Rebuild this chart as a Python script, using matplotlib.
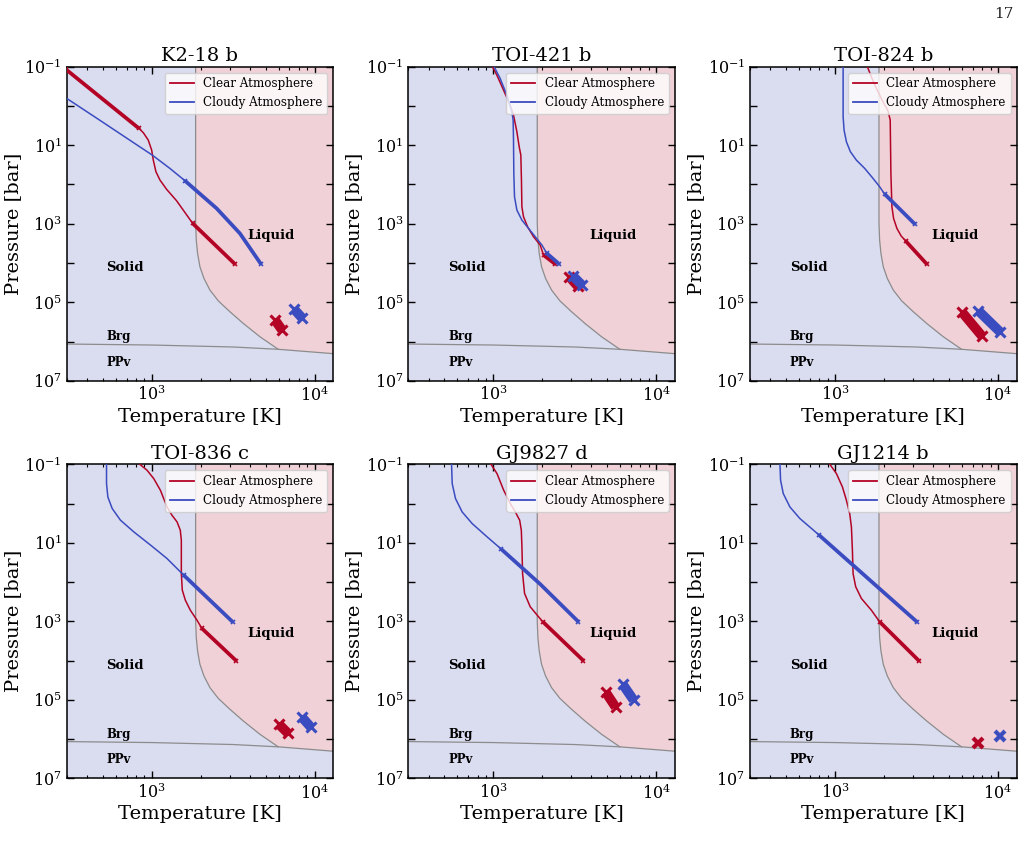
import matplotlib
matplotlib.use('Agg')
import matplotlib.pyplot as plt
from matplotlib.lines import Line2D
from matplotlib.ticker import LogLocator, NullFormatter, FixedLocator, FixedFormatter

plt.rcParams['font.family'] = ['DejaVu Serif']
plt.rcParams['mathtext.fontset'] = 'dejavuserif'

RED = '#b40426'
BLUE = '#3b4cc0'
SOLID_C = '#dadcf0'
LIQ_C = '#f0d1d7'
BOUND_C = '#8c8c8c'

# ---- phase boundaries (T [K], P [bar]) ----
melt_T = [1858, 1858, 1875, 1910, 1975, 2090, 2275, 2559, 3020, 3645, 4613, 5975]
melt_P = [0.1, 977, 2606, 5700, 1.25e4, 2.47e4, 4.9e4, 9.2e4, 1.75e5, 3.46e5, 7.56e5, 1.58e6]
brg_T = [300, 1000, 3160, 5975, 13000]
brg_P = [1.16e6, 1.23e6, 1.38e6, 1.58e6, 2.04e6]

titles = ['K2-18 b', 'TOI-421 b', 'TOI-824 b', 'TOI-836 c', 'GJ9827 d', 'GJ1214 b']

# ---- K2-18 b ----
k218b_clear_T = [297, 832, 887, 951, 998, 1021, 1060, 1122, 1233, 1419, 1782, 3236]
k218b_clear_P = [0.117, 3.7, 4.8, 7.4, 13.3, 23.9, 47.3, 77, 133, 259, 977, 1.06e4]
k218b_clear_thick = [(0, 1), (10, 11)]
k218b_cloudy_T = [300, 481, 769, 1006, 1291, 1597, 2500, 3475, 4677]
k218b_cloudy_P = [0.64, 2.33, 8.5, 17.8, 38.9, 80, 406, 1762, 1.06e4]
k218b_cloudy_thick = [(5, 8)]
k218b_clear_int_T = [5710, 6310]
k218b_clear_int_P = [2.84e5, 5.1e5]
k218b_cloudy_int_T = [7470, 8360]
k218b_cloudy_int_P = [1.49e5, 2.5e5]

# ---- TOI-421 b ----
toi421b_clear_T = [986, 1049, 1153, 1267, 1328, 1393, 1439, 1473, 1486, 1495, 1530, 1620, 1763, 1937, 2031, 2399]
toi421b_clear_P = [0.1, 0.163, 0.393, 0.95, 1.70, 4.53, 10.9, 17.8, 77, 369, 664, 1191, 2143, 3494, 6280, 1.07e4]
toi421b_clear_thick = [(14, 15)]
toi421b_cloudy_T = [1010, 1099, 1208, 1297, 1321, 1328, 1334, 1347, 1393, 1495, 1643, 1806, 1985, 2130, 2512]
toi421b_cloudy_P = [0.1, 0.198, 0.527, 1.40, 2.28, 7.38, 52, 205, 449, 807, 1316, 2143, 3494, 5700, 1.03e4]
toi421b_cloudy_thick = [(13, 14)]
toi421b_clear_int_T = [2924, 3290]
toi421b_clear_int_P = [2.24e4, 3.87e4]
toi421b_cloudy_int_T = [3078, 3497]
toi421b_cloudy_int_P = [2.15e4, 3.66e4]

# ---- TOI-824 b ----
toi824b_clear_T = [1577, 1667, 1790, 1965, 2109, 2178, 2199, 2231, 2284, 2394, 2545, 2704, 3655]
toi824b_clear_P = [0.1, 0.18, 0.356, 0.78, 1.32, 2.28, 52, 369, 731, 1316, 2060, 2716, 1.07e4]
toi824b_clear_thick = [(11, 12)]
toi824b_cloudy_T = [1119, 1119, 1134, 1172, 1240, 1349, 1518, 1708, 1875, 2012, 3085]
toi824b_cloudy_P = [0.1, 1.88, 4.11, 8.15, 14.6, 23.9, 38.9, 70, 114, 175, 1019]
toi824b_cloudy_thick = [(9, 10)]
toi824b_clear_int_T = [6010, 7980]
toi824b_clear_int_P = [1.78e5, 7.3e5]
toi824b_cloudy_int_T = [7590, 10300]
toi824b_cloudy_int_P = [1.66e5, 5.7e5]

# ---- TOI-836 c ----
toi836c_clear_T = [844, 935, 1028, 1129, 1240, 1330, 1429, 1496, 1518, 1518, 1539, 1606, 1723, 1893, 2031, 3296]
toi836c_clear_P = [0.1, 0.142, 0.232, 0.459, 1.22, 1.99, 2.94, 4.79, 8.6, 60.7, 161, 289, 520, 934, 1520, 1.01e4]
toi836c_clear_thick = [(14, 15)]
toi836c_cloudy_T = [527, 527, 537, 571, 642, 775, 1013, 1240, 1570, 3131]
toi836c_cloudy_P = [0.1, 0.31, 0.68, 1.34, 2.66, 5.27, 12.7, 25.2, 66.8, 1030]
toi836c_cloudy_thick = [(8, 9)]
toi836c_clear_int_T = [6010, 6830]
toi836c_clear_int_P = [4.14e5, 7.0e5]
toi836c_cloudy_int_T = [8340, 9460]
toi836c_cloudy_int_P = [2.75e5, 4.95e5]

# ---- GJ9827 d ----
gj9827d_clear_T = [966, 1052, 1156, 1270, 1362, 1449, 1483, 1496, 1510, 1553, 1683, 1893, 2012, 3570]
gj9827d_clear_P = [0.1, 0.173, 0.459, 1.0, 1.63, 2.66, 4.79, 12.7, 60.7, 196, 428, 769, 1030, 1.01e4]
gj9827d_clear_thick = [(12, 13)]
gj9827d_cloudy_T = [553, 558, 585, 642, 740, 914, 1119, 1937, 3327]
gj9827d_cloudy_P = [0.1, 0.31, 0.75, 1.63, 3.24, 7.06, 14.6, 113, 1030]
gj9827d_cloudy_thick = [(6, 8)]
gj9827d_clear_int_T = [4890, 5620]
gj9827d_clear_int_P = [6.36e4, 1.53e5]
gj9827d_cloudy_int_T = [6210, 7260]
gj9827d_cloudy_int_P = [3.98e4, 1.02e5]

# ---- GJ1214 b ----
gj1214b_clear_T = [927, 1018, 1108, 1172, 1228, 1258, 1276, 1288, 1337, 1449, 1667, 1875, 3266]
gj1214b_clear_P = [0.1, 0.173, 0.378, 0.824, 1.8, 3.94, 15.4, 60.7, 132, 262, 520, 1030, 1.01e4]
gj1214b_clear_thick = [(11, 12)]
gj1214b_cloudy_T = [458, 462, 480, 527, 607, 716, 798, 3175]
gj1214b_cloudy_P = [0.1, 0.255, 0.558, 1.22, 2.41, 4.34, 6.41, 1030]
gj1214b_cloudy_thick = [(6, 7)]
gj1214b_clear_int_T = [7570]
gj1214b_clear_int_P = [1.24e6]
gj1214b_cloudy_int_T = [10300]
gj1214b_cloudy_int_P = [8.4e5]

panels = [
    (k218b_clear_T, k218b_clear_P, k218b_clear_thick, k218b_cloudy_T, k218b_cloudy_P, k218b_cloudy_thick,
     k218b_clear_int_T, k218b_clear_int_P, k218b_cloudy_int_T, k218b_cloudy_int_P),
    (toi421b_clear_T, toi421b_clear_P, toi421b_clear_thick, toi421b_cloudy_T, toi421b_cloudy_P, toi421b_cloudy_thick,
     toi421b_clear_int_T, toi421b_clear_int_P, toi421b_cloudy_int_T, toi421b_cloudy_int_P),
    (toi824b_clear_T, toi824b_clear_P, toi824b_clear_thick, toi824b_cloudy_T, toi824b_cloudy_P, toi824b_cloudy_thick,
     toi824b_clear_int_T, toi824b_clear_int_P, toi824b_cloudy_int_T, toi824b_cloudy_int_P),
    (toi836c_clear_T, toi836c_clear_P, toi836c_clear_thick, toi836c_cloudy_T, toi836c_cloudy_P, toi836c_cloudy_thick,
     toi836c_clear_int_T, toi836c_clear_int_P, toi836c_cloudy_int_T, toi836c_cloudy_int_P),
    (gj9827d_clear_T, gj9827d_clear_P, gj9827d_clear_thick, gj9827d_cloudy_T, gj9827d_cloudy_P, gj9827d_cloudy_thick,
     gj9827d_clear_int_T, gj9827d_clear_int_P, gj9827d_cloudy_int_T, gj9827d_cloudy_int_P),
    (gj1214b_clear_T, gj1214b_clear_P, gj1214b_clear_thick, gj1214b_cloudy_T, gj1214b_cloudy_P, gj1214b_cloudy_thick,
     gj1214b_clear_int_T, gj1214b_clear_int_P, gj1214b_cloudy_int_T, gj1214b_cloudy_int_P),
]

XMIN, XMAX = 300, 13000
YTOP, YBOT = 0.1, 1e7

fig = plt.figure(figsize=(10.29, 8.48), dpi=100)
fig.text(0.985, 0.992, '17', ha='right', va='top', fontsize=11, color='#222222')

lefts = [0.0648, 0.3968, 0.7289]
bottoms = [0.551, 0.0822]
W, H = 0.259, 0.3703


def draw_profile(ax, T, P, thick, color):
    ax.plot(T, P, color=color, lw=1.1, zorder=3)
    for (i0, i1) in thick:
        ax.plot(T[i0:i1 + 1], P[i0:i1 + 1], color=color, lw=2.7, zorder=3,
                solid_capstyle='butt')
        ax.plot([T[i0], T[i1]], [P[i0], P[i1]], ls='none', marker='x', ms=3.5,
                mew=1.2, color=color, zorder=3)


def draw_interior(ax, T, P, color):
    if len(T) > 1:
        ax.plot(T, P, color=color, lw=7, zorder=4, solid_capstyle='butt')
        ax.plot(T, P, ls='none', marker='x', ms=7, mew=2.2, color=color, zorder=4)
    else:
        ax.plot(T, P, ls='none', marker='x', ms=7, mew=3, color=color, zorder=4)


for k, (title, data) in enumerate(zip(titles, panels)):
    r, c = divmod(k, 3)
    ax = fig.add_axes([lefts[c], bottoms[r], W, H])
    (cT, cP, cth, dT, dP, dth, ciT, ciP, diT, diP) = data
    ax.set_xscale('log')
    ax.set_yscale('log')
    ax.set_xlim(XMIN, XMAX)
    ax.set_ylim(YBOT, YTOP)
    ax.set_facecolor(SOLID_C)

    # liquid region
    liq_T = list(melt_T) + [brg_T[-1], XMAX, XMAX]
    liq_P = list(melt_P) + [brg_P[-1], brg_P[-1], YTOP]
    ax.fill(liq_T, liq_P, color=LIQ_C, lw=0, zorder=1)
    ax.plot(melt_T, melt_P, color=BOUND_C, lw=0.9, zorder=2)
    ax.plot(brg_T, brg_P, color=BOUND_C, lw=0.9, zorder=2)

    draw_profile(ax, cT, cP, cth, RED)
    draw_profile(ax, dT, dP, dth, BLUE)
    draw_interior(ax, ciT, ciP, RED)
    draw_interior(ax, diT, diP, BLUE)

    ax.text(3870, 2000, 'Liquid', fontsize=9.5, fontweight='bold', ha='left', va='center', zorder=5)
    ax.text(527, 1.3e4, 'Solid', fontsize=9.5, fontweight='bold', ha='left', va='center', zorder=5)
    ax.text(527, 7.6e5, 'Brg', fontsize=8.5, fontweight='bold', ha='left', va='center', zorder=5)
    ax.text(527, 3.4e6, 'PPv', fontsize=8.5, fontweight='bold', ha='left', va='center', zorder=5)

    ax.set_title(title, fontsize=14, pad=4)
    ax.set_xlabel('Temperature [K]', fontsize=14, labelpad=2)
    ax.set_ylabel('Pressure [bar]', fontsize=14, labelpad=2)

    yt = [10.0 ** e for e in range(-1, 8)]
    ylab = [(r'$10^{%d}$' % e) if e % 2 != 0 else '' for e in range(-1, 8)]
    ax.yaxis.set_major_locator(FixedLocator(yt))
    ax.yaxis.set_major_formatter(FixedFormatter(ylab))
    ax.yaxis.set_minor_locator(FixedLocator([]))
    ax.xaxis.set_major_locator(FixedLocator([1e3, 1e4]))
    ax.xaxis.set_major_formatter(FixedFormatter([r'$10^{3}$', r'$10^{4}$']))
    ax.xaxis.set_minor_locator(LogLocator(base=10, subs=range(2, 10), numticks=20))
    ax.xaxis.set_minor_formatter(NullFormatter())
    ax.tick_params(which='both', direction='in', top=True, right=True, labelsize=11.5)
    ax.tick_params(which='major', length=5, width=1.0)
    ax.tick_params(which='minor', length=2.5, width=0.8)
    for s in ax.spines.values():
        s.set_linewidth(1.1)

    handles = [Line2D([0], [0], color=RED, lw=1.3), Line2D([0], [0], color=BLUE, lw=1.3)]
    ax.legend(handles, ['Clear Atmosphere', 'Cloudy Atmosphere'], loc='upper right',
              fontsize=8.6, framealpha=0.8)

fig.savefig('out.png', dpi=100)
